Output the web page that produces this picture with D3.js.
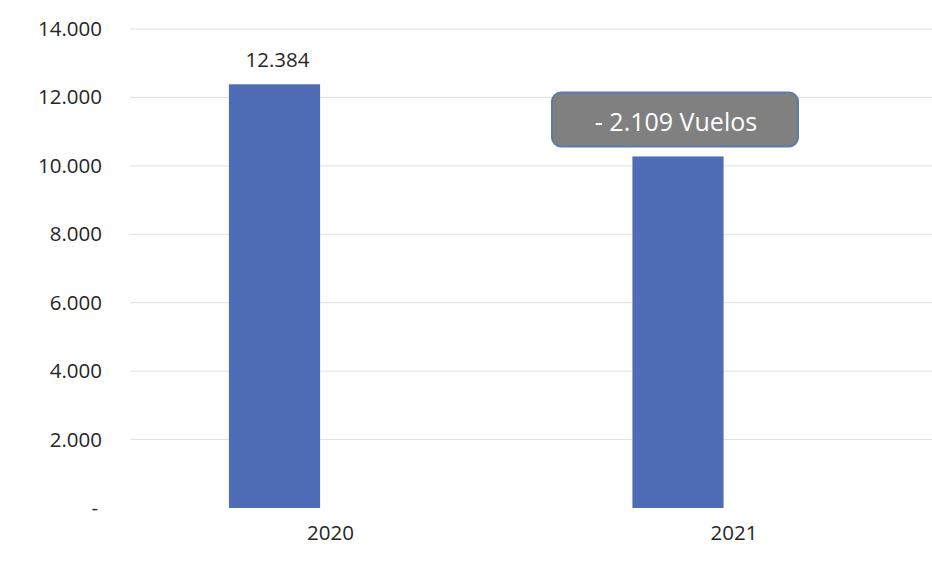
<!DOCTYPE html>
<html>
<head>
<meta charset="utf-8">
<script src="https://cdn.jsdelivr.net/npm/d3@7"></script>
<style>
  html, body { margin: 0; padding: 0; background: #ffffff; }
  svg { display: block; }
</style>
</head>
<body>
<svg id="chart" width="932" height="563"></svg>
<script>
const categories = ["2020", "2021"];
const values = [12384, 10275];
const yTicks = [0, 2000, 4000, 6000, 8000, 10000, 12000, 14000];
const valueLabels = ["12.384", null];
const calloutText = "- 2.109 Vuelos";

const fontFamily = "'Open Sans', 'Liberation Sans', sans-serif";
const svg = d3.select("#chart");

const y = d3.scaleLinear().domain([0, 14000]).range([508, 29]);
const x = d3.scaleBand().domain(categories).range([72.75, 879.75])
  .paddingInner(0.774).paddingOuter(0.387);

const fmt = v => v === 0 ? "-" : d3.format(",")(v).replace(/,/g, ".");

// gridlines
svg.append("g").selectAll("line").data(yTicks.filter(t => t > 0)).join("line")
  .attr("x1", 130).attr("x2", 932)
  .attr("y1", d => y(d)).attr("y2", d => y(d))
  .attr("stroke", "#e0e0e0").attr("stroke-width", 1);

// y axis labels
const yAxis = d3.axisLeft(y).tickValues(yTicks).tickFormat(fmt).tickSize(0).tickPadding(0);
const gy = svg.append("g").attr("transform", "translate(102,0)").call(yAxis);
gy.select(".domain").remove();
gy.selectAll("text").attr("font-family", fontFamily).attr("font-size", 20.5).attr("fill", "#262626");
gy.selectAll(".tick").filter(d => d === 0).select("text").attr("dx", -4);

// bars
svg.append("g").selectAll("rect").data(values).join("rect")
  .attr("x", (d, i) => x(categories[i]))
  .attr("width", x.bandwidth())
  .attr("y", d => y(d))
  .attr("height", d => y(0) - y(d))
  .attr("fill", "#4f6db6");

// x axis labels (offset as in reference)
const xAxis = d3.axisBottom(x).tickSize(0).tickPadding(0);
const gx = svg.append("g").attr("transform", "translate(56,525)").call(xAxis);
gx.select(".domain").remove();
gx.selectAll("text").attr("font-family", fontFamily).attr("font-size", 20.5).attr("fill", "#262626");

// value label
svg.append("g").selectAll("text").data(values.map((v, i) => ({v, i, l: valueLabels[i]})).filter(d => d.l))
  .join("text")
  .attr("x", d => x(categories[d.i]) + x.bandwidth() / 2 + 3)
  .attr("y", d => y(d.v) - 17)
  .attr("text-anchor", "middle")
  .attr("font-family", fontFamily).attr("font-size", 20.5).attr("fill", "#262626")
  .text(d => d.l);

// callout
const cx = x(categories[1]) + x.bandwidth() / 2 - 3;
const boxW = 246, boxH = 54;
const boxTop = y(values[1]) - 64;
svg.append("rect")
  .attr("x", cx - boxW / 2).attr("y", boxTop)
  .attr("width", boxW).attr("height", boxH)
  .attr("rx", 9).attr("ry", 9)
  .attr("fill", "#808080").attr("stroke", "#5a7bb0").attr("stroke-width", 2);
svg.append("text")
  .attr("x", cx + 1).attr("y", boxTop + boxH / 2 + 12)
  .attr("text-anchor", "middle")
  .attr("font-family", fontFamily).attr("font-size", 25).attr("fill", "#ffffff")
  .text(calloutText);
</script>
</body>
</html>
